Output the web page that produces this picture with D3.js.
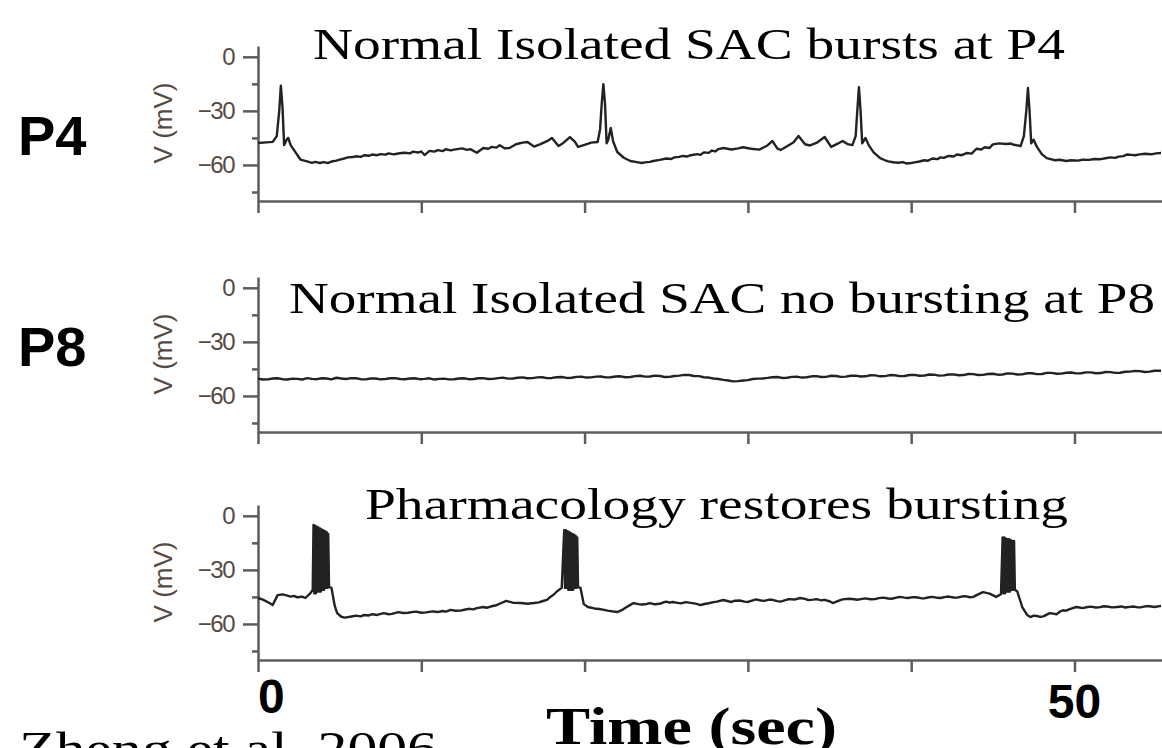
<!DOCTYPE html>
<html>
<head>
<meta charset="utf-8">
<script src="https://cdn.jsdelivr.net/npm/d3@7"></script>
<style>
  html, body { margin: 0; padding: 0; background: #fff; }
  svg { display: block; }
</style>
</head>
<body>
<svg id="chart" width="1162" height="748"></svg>
<script>
// ---------- DATA ----------
const timeTicks = [0, 10, 20, 30, 40, 50];
const voltMajorTicks = [0, -30, -60];
const voltMinorTicks = [-15, -45, -75];
const timeEndLabels = [0, 50];
const panelTitles = [
  "Normal Isolated SAC bursts at P4",
  "Normal Isolated SAC no bursting at P8",
  "Pharmacology restores bursting"
];
const ageLabels = ["P4", "P8", ""];
const xAxisTitle = "Time (sec)";
const citation = "Zheng et al. 2006";

// [time (s), membrane potential (mV)]
const p4Trace = [
  [0,-47.8],[0.5,-47.5],[0.9,-47.2],[1.15,-44],[1.3,-30],[1.4,-16],[1.5,-28],[1.6,-49],[1.75,-46],[1.85,-45],
  [2.0,-49],[2.3,-53],[2.6,-57],[3.0,-58],[3.3,-58.8],[3.5,-58.3],[3.8,-58.9],[4.0,-58.4],[4.3,-58.9],[4.5,-58.1],[4.8,-57.6],[5.0,-57],[5.3,-56.4],[5.5,-55.8],[5.8,-55.6],[6.0,-55.2],
  [6.3,-55.5],[6.5,-54.6],[6.8,-54.9],[7.0,-54.2],[7.3,-54.6],[7.5,-54],[7.8,-54.3],[8.0,-53.6],[8.3,-54.1],[8.5,-53.8],[8.8,-53.4],[9.0,-53.2],[9.3,-53.6],[9.5,-52.6],[9.8,-53.1],[10.0,-52.5],[10.2,-54.5],[10.5,-52.2],
  [10.8,-52.6],[11.0,-51.8],[11.3,-52.3],[11.5,-51.3],[11.8,-51.9],[12.0,-51.5],[12.3,-51.1],[12.5,-50.8],[12.8,-51.6],[13.0,-51.2],[13.4,-53.2],[13.8,-50.6],[14.1,-51],[14.3,-50],[14.6,-50.4],[14.8,-49],[15.1,-50.8],
  [15.4,-50.6],[15.8,-48.5],[16.2,-47.6],[16.5,-47.3],[16.9,-49.8],[17.3,-48.4],[17.7,-46.8],[18.0,-45],[18.4,-49.5],[18.7,-47.8],
  [19.1,-44.5],[19.4,-47],[19.6,-50],[20.0,-48.8],[20.4,-47.6],[20.8,-47.3],[20.95,-40],[21.05,-26],[21.15,-15.2],[21.25,-26],
  [21.35,-48],[21.45,-46],[21.6,-39.5],[21.75,-47],[22.0,-52.8],[22.4,-56],[22.8,-57.8],[23.2,-58.4],[23.5,-58.9],[23.7,-58.6],[24.0,-58.3],[24.2,-57.8],
  [24.6,-57.2],[25.0,-56.4],[25.3,-56.7],[25.5,-55.8],[25.8,-55.5],[26.0,-55],[26.3,-55.3],[26.5,-54.6],[26.9,-54],[27.1,-54.4],[27.3,-53],[27.6,-53.3],[27.8,-52],[28.0,-52.5],[28.2,-51.2],[28.5,-50.6],
  [29.0,-51.4],[29.4,-50.8],[29.7,-50.2],[30.2,-51],[30.7,-51.5],[31.2,-49.2],[31.5,-46.7],[31.8,-50.8],[32.0,-51.7],[32.4,-49.6],
  [32.8,-47.4],[33.1,-43.9],[33.5,-48.5],[33.8,-49.2],[34.2,-47.8],[34.7,-44.5],[35.1,-50],[35.5,-48.2],[35.8,-46.7],[36.1,-48.4],
  [36.4,-49],[36.6,-44],[36.7,-30],[36.8,-16.8],[36.9,-30],[37.0,-48],[37.2,-45],[37.4,-49],[37.7,-53],[38.1,-56.2],
  [38.4,-57.4],[38.6,-58],[38.9,-58.5],[39.2,-58.8],[39.5,-58.4],[39.7,-59.2],[40.0,-58.9],[40.2,-58.6],[40.5,-58.1],[40.8,-57.4],[41.0,-57.7],[41.3,-56.4],[41.6,-56.8],[41.8,-55.8],[42.0,-56.1],[42.3,-55],[42.6,-55.3],[42.8,-54.2],[43.1,-54.6],[43.4,-53.4],
  [43.7,-53.7],[44.0,-51],[44.3,-51.4],[44.5,-50.2],[44.8,-50.6],[45.0,-48.6],[45.4,-48],[45.8,-48.4],[46.1,-48.1],[46.3,-48.8],[46.7,-49.5],[46.9,-44],[47.05,-30],[47.15,-17.3],
  [47.25,-30],[47.35,-48],[47.5,-46],[47.7,-50],[48.0,-54],[48.3,-56.2],[48.6,-56.9],[48.8,-57.4],[49.1,-57.1],[49.5,-57.8],[49.8,-57.4],[50.2,-57.6],[50.5,-57.1],[50.9,-57.2],
  [51.2,-56.7],[51.6,-56.8],[51.9,-56.3],[52.2,-55.8],[52.5,-56.1],[52.7,-55.4],[53.0,-55.1],[53.2,-54.2],[53.5,-54.4],[53.7,-54.6],[54.0,-54.1],[54.3,-53.8],[54.7,-54.1],[55.0,-53.6],[55.3,-53.4]
];

const p8Trace = [
  [0,-50.4],[0.3,-50.9],[0.6,-50.8],[0.9,-50.3],[1.2,-50.2],[1.5,-50.7],[1.8,-50.9],[2.1,-50.4],[2.4,-50.5],[2.7,-50.9],[3.0,-50.1],[3.3,-50.5],[3.6,-50.7],[3.9,-50.2],[4.2,-50.3],[4.5,-50.8],[4.8,-49.9],[5.1,-50.3],[5.4,-50.6],
  [5.7,-50.1],[6.0,-50.2],[6.3,-50.7],[6.6,-50.8],[6.9,-50.3],[7.2,-50.3],[7.5,-50.8],[7.8,-50.6],[8.1,-50.2],[8.4,-50.1],[8.7,-50.6],[9.0,-50.7],[9.3,-50.3],[9.6,-50.2],[9.9,-50.7],[10.2,-50.5],[10.5,-50.2],[10.8,-50.9],[11.1,-50.5],[11.4,-50.4],
  [11.7,-50.8],[12.0,-50.7],[12.3,-50.3],[12.6,-50.2],[12.9,-50.7],[13.2,-50.6],[13.5,-50.2],[13.8,-50.1],[14.1,-50.6],[14.4,-50.5],[14.7,-50.1],[15.0,-49.8],[15.3,-50.4],[15.6,-50.3],[15.9,-49.9],[16.2,-49.7],[16.5,-50.2],[16.8,-50.1],[17.1,-49.7],[17.4,-49.6],
  [17.7,-50.1],[18.0,-50.0],[18.3,-49.6],[18.6,-49.5],[18.9,-50.0],[19.2,-49.9],[19.5,-49.4],[19.8,-49.3],[20.1,-49.8],[20.4,-49.7],[20.7,-49.3],[21.0,-49.2],[21.3,-49.7],[21.6,-49.6],[21.9,-49.2],[22.2,-49.1],[22.5,-49.6],[22.8,-49.5],[23.1,-49.0],[23.4,-48.8],
  [23.7,-49.3],[24.0,-49.2],[24.3,-48.7],[24.6,-48.9],[24.9,-49.5],[25.2,-49.4],[25.5,-48.9],[25.8,-48.7],[26.1,-48.3],[26.4,-48.4],[26.7,-48.9],[27.0,-49.0],[27.3,-49.6],[27.6,-49.8],[27.9,-50.3],[28.2,-50.6],[28.5,-51.1],[28.8,-51.4],[29.1,-51.9],[29.4,-51.8],
  [29.7,-51.4],[30.0,-51.2],[30.3,-50.6],[30.6,-50.4],[30.9,-50.3],[31.2,-50.0],[31.5,-49.6],[31.8,-49.5],[32.1,-50.0],[32.4,-49.9],[32.7,-49.4],[33.0,-49.3],[33.3,-49.8],[33.6,-49.6],[33.9,-49.1],[34.2,-49.0],[34.5,-49.5],[34.8,-49.4],[35.1,-48.8],[35.4,-48.9],
  [35.7,-49.4],[36.0,-49.3],[36.3,-48.8],[36.6,-48.7],[36.9,-49.2],[37.2,-49.1],[37.5,-48.5],[37.8,-48.6],[38.1,-49.1],[38.4,-49.0],[38.7,-48.4],[39.0,-48.5],[39.3,-49.0],[39.6,-48.9],[39.9,-48.4],[40.2,-48.3],[40.5,-48.8],[40.8,-48.7],[41.1,-48.1],[41.4,-48.2],
  [41.7,-48.7],[42.0,-48.6],[42.3,-48.1],[42.6,-48.0],[42.9,-48.5],[43.2,-48.4],[43.5,-47.8],[43.8,-47.9],[44.1,-48.4],[44.4,-48.3],[44.7,-47.8],[45.0,-47.7],[45.3,-48.2],[45.6,-48.1],[45.9,-47.5],[46.2,-47.6],[46.5,-48.1],[46.8,-48.0],[47.1,-47.4],[47.4,-47.4],
  [47.7,-47.9],[48.0,-47.8],[48.3,-47.2],[48.6,-47.2],[48.9,-47.7],[49.2,-47.6],[49.5,-47.1],[49.8,-47.0],[50.1,-47.5],[50.4,-47.4],[50.7,-46.9],[51.0,-46.9],[51.3,-47.4],[51.6,-47.3],[51.9,-46.7],[52.2,-46.8],[52.5,-47.2],[52.8,-47.1],[53.1,-46.6],[53.4,-46.5],
  [53.7,-46.1],[54.0,-46.2],[54.3,-46.7],[54.6,-46.5],[54.9,-46.0],[55.3,-46.0]
];

const pharmTrace = [
  [0,-45.6],[0.3,-46.5],[0.7,-48.4],[0.9,-49.5],[1.2,-44],[1.5,-43.6],[1.8,-44.3],[2.0,-44.8],[2.2,-44.4],[2.4,-45.2],[2.7,-44.9],[2.9,-45.6],[3.2,-43],[3.35,-41.2],
  [3.40,-5],[3.45,-43],[3.50,-5.5],[3.55,-43],[3.60,-6],[3.65,-42],[3.70,-6.5],[3.75,-42],[3.80,-7],[3.85,-42],
  [3.90,-7.5],[3.95,-41],[4.00,-8],[4.05,-41],[4.10,-8.5],[4.15,-40],[4.20,-9],[4.25,-40],[4.30,-10],[4.35,-39.5],
  [4.5,-40],[4.7,-50],[4.85,-54],[5.1,-56],[5.3,-56.5],[5.5,-56.2],[5.8,-55.7],[6.0,-55.4],[6.3,-55.8],[6.5,-55],[6.8,-55.3],[7.0,-54.6],[7.3,-55],[7.7,-54],[8.0,-54.6],[8.2,-54.4],
  [8.6,-53.4],[8.9,-53.9],[9.2,-53.8],[9.5,-53.3],[9.7,-53.2],[10.0,-53.8],[10.3,-53.6],[10.7,-53],[11.0,-53.4],[11.3,-52.8],[11.5,-53.2],[11.8,-52.2],[12.1,-52.7],[12.4,-52.6],[12.7,-52],[12.9,-51.6],[13.2,-51.9],[13.4,-51.2],
  [13.8,-50.6],[14.0,-51],[14.3,-50.2],[14.6,-49.6],[14.8,-48.8],[15.2,-47.2],[15.6,-48.2],[16.1,-48.4],[16.5,-48.8],[16.9,-48.4],[17.2,-48],[17.4,-47.4],[17.7,-46.6],[17.9,-45],
  [18.1,-43.8],[18.3,-42],[18.6,-40],
  [18.75,-8],[18.8,-40],[18.85,-8],[18.9,-40],[18.95,-8.5],[19.0,-41],[19.05,-9],[19.1,-41],[19.15,-9.5],[19.2,-41],
  [19.25,-10],[19.3,-41],[19.35,-10.5],[19.4,-40],[19.45,-11],[19.5,-40],[19.55,-12],[19.6,-39.5],
  [19.75,-40],[19.95,-49],[20.2,-50.6],[20.6,-51.4],[20.9,-51.7],[21.2,-52.2],[21.4,-52.6],[21.7,-53],[22.0,-53.4],[22.3,-52.2],[22.5,-51],[22.8,-49.4],[23.0,-48.4],[23.3,-49],[23.5,-49.2],
  [23.8,-48.9],[24.0,-48.4],[24.3,-49.1],[24.6,-48.8],[24.8,-48.1],[25.0,-47.6],[25.2,-48.2],[25.4,-47.8],[25.7,-48.3],[25.9,-48.6],[26.2,-47.9],[26.4,-48.2],[26.8,-48.7],[27.1,-49.5],[27.4,-48.8],[27.6,-48.5],[27.9,-47.9],[28.1,-47.6],[28.5,-46.7],
  [28.8,-47.4],[29.0,-47.8],[29.2,-47.1],[29.5,-47],[29.8,-47.6],[30.0,-47.8],[30.3,-46.9],[30.5,-46.4],[30.8,-47],[31.0,-47.2],[31.3,-46.5],[31.5,-46.6],[31.8,-47.3],[32.0,-47.6],[32.3,-46.8],[32.5,-46.2],[32.9,-46.4],[33.2,-45.6],[33.5,-46.1],[33.7,-46.8],
  [34.0,-46.5],[34.2,-46.2],[34.5,-46.9],[34.7,-46.6],[35.0,-47.4],[35.2,-48.4],[35.5,-47.3],[35.7,-46.6],[35.9,-46.2],[36.2,-46],[36.5,-46.3],[36.7,-46.6],[37.0,-46.1],[37.2,-45.8],[37.5,-46.3],[37.8,-46.2],[38.0,-45.7],[38.3,-45.4],[38.6,-45.9],[38.8,-46],
  [39.1,-45.4],[39.3,-45],[39.6,-45.4],[39.8,-45.6],[40.1,-45.1],[40.3,-45.2],[40.6,-45.7],[40.8,-45.8],[41.1,-45.2],[41.3,-45],[41.6,-45.5],[41.8,-45.6],[42.1,-45],[42.3,-44.8],[42.6,-45.3],[42.8,-45.4],[43.1,-44.8],[43.3,-44.6],[43.6,-45.2],[43.8,-45],
  [44.1,-43.6],[44.4,-42.3],[44.8,-43.2],[45.2,-45],[45.5,-43.5],
  [45.6,-12],[45.65,-43],[45.7,-12],[45.75,-43],[45.8,-12.5],[45.85,-42],[45.9,-13],[45.95,-42],[46.0,-13],[46.05,-42],
  [46.1,-13.5],[46.15,-41],[46.2,-14],[46.25,-41],[46.3,-14],[46.35,-41],
  [46.5,-42],[46.8,-50.6],[47.1,-55],[47.3,-56.2],[47.5,-55.4],[47.7,-55.6],[47.9,-56.1],[48.1,-55.8],[48.3,-54.8],[48.5,-54],[48.7,-54.3],[48.9,-54.6],[49.1,-53.2],[49.3,-52.4],[49.5,-52.6],[49.7,-51.8],
  [49.9,-51.2],[50.1,-50.6],[50.3,-50.9],[50.5,-51.2],[50.8,-50.6],[51.0,-50.4],[51.3,-50.9],[51.5,-50.8],[51.8,-50.2],[52.0,-50.3],[52.3,-50.8],[52.6,-50.6],[52.9,-50.3],[53.1,-50.9],[53.4,-50.5],[53.6,-50.3],[53.9,-50.8],[54.1,-50.7],[54.4,-50.1],[54.6,-50.2],
  [54.9,-50.6],[55.3,-50.0]
];

const traces = [p4Trace, p8Trace, pharmTrace];

// ---------- LAYOUT ----------
const svg = d3.select("#chart");
const axisColor = "#5c5c5c";
const tickTextColor = "#554a42";
const panelTops = [46, 277, 505];
const panelH = 155;
const x = d3.scaleLinear().domain([0, 55.36]).range([258, 1162]);

const titleLayout = [
  { x: 313, y: 59, w: 752 },
  { x: 289, y: 313, w: 866 },
  { x: 365, y: 519, w: 703 }
];
const ageLayout = [{ x: 18, y: 155 }, { x: 18, y: 366 }];

panelTops.forEach((top, i) => {
  const y = d3.scaleLinear().domain([-80, 6]).range([top + panelH, top]);
  const g = svg.append("g");

  const xa = g.append("g")
    .attr("transform", `translate(0,${top + panelH})`)
    .call(d3.axisBottom(x).tickValues(timeTicks).tickSize(12).tickSizeOuter(0).tickFormat(""));
  const ym = g.append("g")
    .attr("transform", `translate(${x(0)},0)`)
    .call(d3.axisLeft(y).tickValues(voltMinorTicks).tickSize(6).tickSizeOuter(0).tickFormat(""));
  ym.select(".domain").remove();
  const ya = g.append("g")
    .attr("transform", `translate(${x(0)},0)`)
    .call(d3.axisLeft(y).tickValues(voltMajorTicks).tickSize(15).tickSizeOuter(0).tickPadding(9)
      .tickFormat(d => d === 0 ? "0" : "\u2212" + Math.abs(d)));

  [xa, ym, ya].forEach(a => {
    a.selectAll("path, line").attr("stroke", axisColor).attr("stroke-width", 2.5);
  });
  ya.selectAll("text")
    .attr("fill", tickTextColor)
    .style("font-family", "'Liberation Sans', Arial, sans-serif")
    .style("font-size", "24px")
    .attr("letter-spacing", "-1.5px");

  g.append("text")
    .attr("transform", `translate(172,${top + 77}) rotate(-90)`)
    .attr("text-anchor", "middle")
    .attr("fill", tickTextColor)
    .style("font-family", "'Liberation Sans', Arial, sans-serif")
    .style("font-size", "26px")
    .text("V (mV)");

  const line = d3.line().x(d => x(d[0])).y(d => y(d[1])).curve(d3.curveLinear);
  g.append("path")
    .datum(traces[i])
    .attr("fill", "none")
    .attr("stroke", "#222")
    .attr("stroke-width", 2.4)
    .attr("stroke-linejoin", "round")
    .attr("d", line);

  g.append("text")
    .attr("x", titleLayout[i].x)
    .attr("y", titleLayout[i].y)
    .attr("textLength", titleLayout[i].w)
    .attr("lengthAdjust", "spacingAndGlyphs")
    .attr("fill", "#000")
    .style("font-family", "'Liberation Serif', 'Times New Roman', serif")
    .style("font-size", "45px")
    .text(panelTitles[i]);

  if (ageLabels[i]) {
    g.append("text")
      .attr("x", ageLayout[i].x)
      .attr("y", ageLayout[i].y)
      .attr("fill", "#000")
      .style("font-family", "'Liberation Sans', Arial, sans-serif")
      .style("font-weight", "bold")
      .style("font-size", "56px")
      .text(ageLabels[i]);
  }
});

svg.append("text")
  .attr("x", x(timeEndLabels[0]))
  .attr("y", 713)
  .attr("fill", "#000")
  .style("font-family", "'Liberation Sans', Arial, sans-serif")
  .style("font-weight", "bold")
  .style("font-size", "48px")
  .text(timeEndLabels[0]);
svg.append("text")
  .attr("x", x(timeEndLabels[1]))
  .attr("y", 718)
  .attr("text-anchor", "middle")
  .attr("fill", "#000")
  .style("font-family", "'Liberation Sans', Arial, sans-serif")
  .style("font-weight", "bold")
  .style("font-size", "48px")
  .text(timeEndLabels[1]);

svg.append("text")
  .attr("x", 546)
  .attr("y", 744)
  .attr("textLength", 291)
  .attr("lengthAdjust", "spacingAndGlyphs")
  .attr("fill", "#000")
  .style("font-family", "'Liberation Serif', 'Times New Roman', serif")
  .style("font-weight", "bold")
  .style("font-size", "52px")
  .text(xAxisTitle);

svg.append("text")
  .attr("x", 19)
  .attr("y", 764)
  .attr("textLength", 418)
  .attr("lengthAdjust", "spacingAndGlyphs")
  .attr("fill", "#000")
  .style("font-family", "'Liberation Serif', 'Times New Roman', serif")
  .style("font-size", "46px")
  .text(citation);
</script>
</body>
</html>
